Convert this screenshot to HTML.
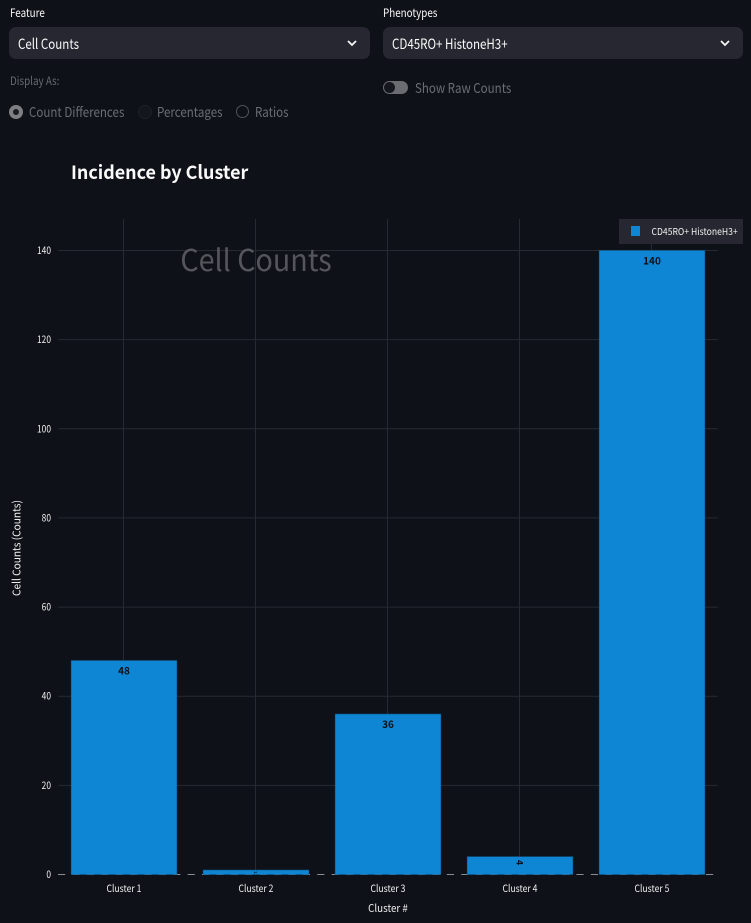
<!DOCTYPE html>
<html lang="en">
<head>
<meta charset="utf-8">
<title>Incidence by Cluster</title>
<style>
html,body{margin:0;padding:0;background:#0e1117;}
body{width:751px;height:923px;position:relative;overflow:hidden;font-family:"Noto Sans CJK SC","Liberation Sans",sans-serif;color:#fafafa;}
.t{position:absolute;white-space:nowrap;line-height:1;transform:scaleX(.855);transform-origin:left center;}
.sel{position:absolute;top:27px;height:32px;background:#262730;border-radius:7px;}
.sel span{position:absolute;left:9px;top:9px;font-size:14px;line-height:16px;color:#fafafa;white-space:nowrap;transform:scaleX(.825);transform-origin:left center;}
.sel svg{position:absolute;right:13px;top:12px;}
#chart{position:absolute;left:0;top:0;}
#chart text{font-family:"Noto Sans CJK SC","Liberation Sans",sans-serif;}
</style>
</head>
<body>

<div class="t" style="left:10px;top:8px;font-size:11.5px;">Feature</div>
<div class="sel" style="left:9px;width:361px;">
  <span>Cell Counts</span>
  <svg width="10" height="8" viewBox="0 0 10 8"><path d="M1 2 L5 6 L9 2" fill="none" stroke="#fafafa" stroke-width="1.7"/></svg>
</div>

<div class="t" style="left:383px;top:8px;font-size:11.5px;">Phenotypes</div>
<div class="sel" style="left:383px;width:360px;">
  <span>CD45RO+ HistoneH3+</span>
  <svg width="10" height="8" viewBox="0 0 10 8"><path d="M1 2 L5 6 L9 2" fill="none" stroke="#fafafa" stroke-width="1.7"/></svg>
</div>

<div class="t" style="left:10px;top:76px;font-size:11.5px;color:#686b72;">Display As:</div>

<div style="position:absolute;left:9px;top:105px;width:14px;height:14px;border-radius:50%;background:#7d7f84;"><div style="position:absolute;left:4px;top:4px;width:6px;height:6px;border-radius:50%;background:#1a1c22;"></div></div>
<div class="t" style="left:29px;top:105px;font-size:13.5px;color:#6b6e75;">Count Differences</div>

<div style="position:absolute;left:138px;top:105px;width:12px;height:12px;border-radius:50%;background:#14171e;border:1px solid #1d2027;"></div>
<div class="t" style="left:157px;top:105px;font-size:13.5px;color:#6b6e75;">Percentages</div>

<div style="position:absolute;left:236px;top:105px;width:11px;height:11px;border-radius:50%;border:1px solid #50535a;"></div>
<div class="t" style="left:255px;top:105px;font-size:13.5px;color:#6b6e75;">Ratios</div>

<div style="position:absolute;left:383px;top:81px;width:25px;height:13px;border-radius:7px;background:#6a6c71;"><div style="position:absolute;left:1px;top:1px;width:11px;height:11px;border-radius:50%;background:#14171e;"></div></div>
<div class="t" style="left:415px;top:81px;font-size:13.5px;color:#6b6e75;">Show Raw Counts</div>

<svg id="chart" width="751" height="923" viewBox="0 0 751 923"></svg>

<script>
const categories = ["Cluster 1", "Cluster 2", "Cluster 3", "Cluster 4", "Cluster 5"];
const seriesValues = [48, 1, 36, 4, 140];
const valueLabels = ["48", "1", "36", "4", "140"];
const yTicks = [0, 20, 40, 60, 80, 100, 120, 140];
const seriesName = "CD45RO+ HistoneH3+";

const svg = document.getElementById('chart');
const NS = 'http://www.w3.org/2000/svg';
const plot = {left: 58, right: 718, top: 219, bottom: 874.5};
const yScale = v => plot.bottom - v * (874.5 - 250.5) / 140;
const step = (plot.right - plot.left) / categories.length;
const xScale = i => plot.left + step * (i + 0.5);
const barWidth = step * 0.8;

function mk(tag, attrs, text) {
  const el = document.createElementNS(NS, tag);
  for (const k in attrs) el.setAttribute(k, attrs[k]);
  if (text !== undefined) el.textContent = text;
  svg.appendChild(el);
  return el;
}
function squeeze(el, ratio) {
  el.setAttribute('textLength', (el.getComputedTextLength() * ratio).toFixed(2));
  el.setAttribute('lengthAdjust', 'spacingAndGlyphs');
}

// title
const title = mk('text', {x: 71, y: 179, 'font-size': 18.5, 'font-weight': 700, fill: '#fafafa'}, 'Incidence by Cluster');


squeeze(title, 0.967);

// horizontal grid + y tick labels
yTicks.forEach(t => {
  if (t !== 0) {
    const g = mk('line', {x1: plot.left, x2: plot.right, y1: yScale(t), y2: yScale(t), stroke: '#262a32', 'stroke-width': 1});
    
    
  }
  const l = mk('text', {x: 51, y: yScale(t) + 3.5, 'font-size': 10, 'text-anchor': 'end', fill: '#f0f0f0'}, String(t));
  
  
  squeeze(l, 0.84);
});

// vertical grid + x tick labels
categories.forEach((c, i) => {
  const g = mk('line', {x1: xScale(i) - 0.5, x2: xScale(i) - 0.5, y1: plot.top, y2: plot.bottom, stroke: '#262a32', 'stroke-width': 1});
  
  
  const l = mk('text', {x: xScale(i), y: 892, 'font-size': 10, 'text-anchor': 'middle', fill: '#f0f0f0'}, c);
  
  
  squeeze(l, 0.86);
});

// dashed zero line
const zero = mk('line', {x1: plot.left, x2: plot.right, y1: yScale(0), y2: yScale(0), stroke: '#8a8c90', 'stroke-width': 1, 'stroke-dasharray': '7.2 7.2'});



// bars + labels
seriesValues.forEach((v, i) => {
  const x = xScale(i) - barWidth / 2;
  const y = yScale(v);
  const b = mk('rect', {x: x, y: y, width: barWidth, height: yScale(0) - y, fill: '#0e86d4', stroke: '#0f5f94', 'stroke-width': 0.6});
  
  
  const h = yScale(0) - y;
  let lab;
  if (h >= 20) {
    lab = mk('text', {x: xScale(i), y: y + 14, 'font-size': 10, 'font-weight': 700, 'text-anchor': 'middle', fill: '#0e1117'}, valueLabels[i]);
  } else {
    const size = h >= 10 ? 9 : 4;
    const cy = y + h / 2 + (h >= 10 ? -3 : 0);
    lab = mk('text', {x: xScale(i) - 0.5, y: cy + size * 0.35, 'font-size': size, 'font-weight': 700, 'text-anchor': 'middle', fill: '#0e1117', transform: 'rotate(90 ' + (xScale(i) - 0.5) + ' ' + cy + ')'}, valueLabels[i]);
  }
  
  
});

// annotation
const note = mk('text', {x: 256, y: 271, 'font-size': 30, 'text-anchor': 'middle', fill: '#54565b'}, 'Cell Counts');


squeeze(note, 0.955);

// axis titles
const xt = mk('text', {x: 388, y: 912, 'font-size': 10.5, 'text-anchor': 'middle', fill: '#f0f0f0'}, 'Cluster #');


squeeze(xt, 0.93);
const yt = mk('text', {x: 0, y: 0, 'font-size': 11, 'text-anchor': 'middle', fill: '#f0f0f0', transform: 'translate(20.5 548) rotate(-90)'}, 'Cell Counts (Counts)');


squeeze(yt, 0.92);

// legend
const lb = mk('rect', {x: 619, y: 219, width: 124, height: 25, fill: '#262730'});


const ls = mk('rect', {x: 631, y: 226, width: 9, height: 10, fill: '#0e86d4'});


const lt = mk('text', {x: 651.5, y: 235, 'font-size': 9.5, fill: '#f0f0f0'}, seriesName);


squeeze(lt, 0.906);
</script>
</body>
</html>
